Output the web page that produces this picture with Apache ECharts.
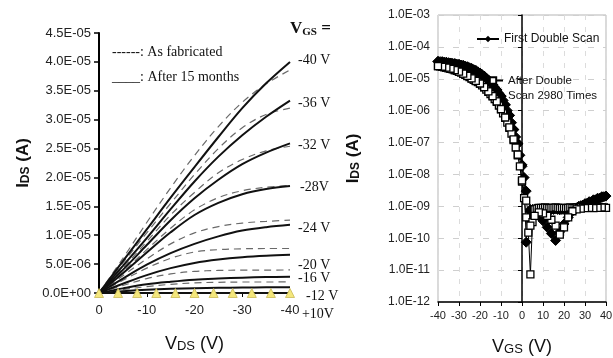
<!DOCTYPE html>
<html><head><meta charset="utf-8">
<script src="https://cdn.jsdelivr.net/npm/echarts@6/dist/echarts.min.js"></script>
<style>html,body{margin:0;padding:0;background:#fff}#c{width:613px;height:358px}</style>
</head><body><div id="c"></div>
<script>
// ---------- Left chart: output curves, I_DS in µA ----------
const vds = [0, -5, -10, -15, -20, -25, -30, -35, -40];
const vdsTri = [0, -4, -8, -12, -16, -20, -24, -28, -32, -36, -40];
const gateLabels = ['-40 V', '-36 V', '-32 V', '-28V', '-24 V', '-20 V', '-16 V', '-12 V'];
// After 15 months (solid)
const after40 = [0, 5.5, 11.0, 16.5, 21.8, 27.0, 32.0, 36.3, 40.0];
const after36 = [0, 4.7, 9.5, 14.5, 19.3, 23.6, 27.3, 30.5, 33.3];
const after32 = [0, 4.0, 8.3, 12.6, 16.4, 19.6, 22.3, 24.3, 25.9];
const after28 = [0, 3.4, 7.0, 10.5, 13.5, 15.6, 17.1, 18.0, 18.5];
const after24 = [0, 2.5, 4.9, 6.9, 8.5, 9.8, 10.8, 11.4, 11.8];
const after20 = [0, 1.6, 3.1, 4.3, 5.2, 5.8, 6.2, 6.45, 6.6];
const after16 = [0, 0.8, 1.5, 1.95, 2.3, 2.5, 2.65, 2.75, 2.8];
const after12 = [0, 0.3, 0.55, 0.72, 0.83, 0.9, 0.95, 0.98, 1.0];
const afterP10 = [0, 0, 0, 0, 0, 0, 0, 0, 0, 0, 0];
// As fabricated (dashed)
const fab40 = [0, 6.0, 12.2, 18.2, 23.8, 28.8, 33.0, 36.2, 38.6];
const fab36 = [0, 5.2, 10.4, 15.5, 20.5, 25.0, 28.6, 30.9, 32.0];
const fab32 = [0, 4.3, 8.9, 13.5, 17.4, 20.8, 23.1, 24.6, 25.4];
const fab28 = [0, 3.6, 7.5, 11.2, 14.4, 16.5, 17.7, 18.3, 18.6];
const fab24 = [0, 3.0, 5.9, 8.5, 10.4, 11.5, 12.1, 12.4, 12.6];
const fab20 = [0, 2.2, 4.3, 6.0, 7.1, 7.5, 7.65, 7.7, 7.7];
const fab16 = [0, 1.3, 2.5, 3.3, 3.75, 3.9, 3.95, 3.95, 4.0];
const fab12 = [0, 0.6, 1.1, 1.5, 1.75, 1.85, 1.9, 1.9, 1.95];

// ---------- Right chart: transfer curves (A), forward sweep then reverse sweep ----------
const vgsFwd = [-40,-39,-38,-37,-36,-35,-34,-33,-32,-31,-30,-29,-28,-27,-26,-25,-24,-23,-22,-21,
  -20,-19,-18,-17,-16,-15,-14,-13,-12,-11,-10,-9,-8,-7,-6,-5,-4,-3,-2,-1,
  0,1,2,3,4,5,6,7,8,9,10,11,12,13,14,15,16,17,18,19,20,21,22,23,24,25,26,27,28,29,
  30,31,32,33,34,35,36,37,38,39,40];
const vgsRev = [38,36,34,32,30,28,26,24,22,20,18,16,14,12,10,8,6,4,2,0,
  -2,-4,-6,-8,-10,-12,-14,-16,-18,-20,-22,-24,-26,-28,-30,-32,-34,-36,-38,-40];
const firstFwd = [3.5e-5,3.45e-5,3.4e-5,3.33e-5,3.27e-5,3.2e-5,3.12e-5,3.04e-5,2.96e-5,2.88e-5,
  2.8e-5,2.7e-5,2.6e-5,2.48e-5,2.36e-5,2.22e-5,2.08e-5,1.94e-5,1.8e-5,1.65e-5,
  1.5e-5,1.35e-5,1.2e-5,1.05e-5,9.0e-6,7.7e-6,6.5e-6,5.4e-6,4.4e-6,3.5e-6,
  2.8e-6,2.1e-6,1.5e-6,1.0e-6,7.0e-7,4.2e-7,2.5e-7,1.5e-7,9.0e-8,4.0e-8,
  1.8e-8,8.0e-9,7.5e-11,4.5e-10,7.0e-10,8.0e-10,8.0e-10,7.5e-10,8.0e-10,7.8e-10,
  8.0e-10,8.2e-10,8.0e-10,7.8e-10,8.0e-10,8.0e-10,8.2e-10,8.0e-10,7.8e-10,8.0e-10,
  8.0e-10,7.8e-10,7.5e-10,7.8e-10,8.0e-10,8.5e-10,9.0e-10,1.0e-9,1.05e-9,1.1e-9,
  1.2e-9,1.25e-9,1.3e-9,1.4e-9,1.5e-9,1.6e-9,1.7e-9,1.8e-9,1.9e-9,2.0e-9,2.1e-9];
const firstRev = [2.0e-9,1.8e-9,1.6e-9,1.4e-9,1.2e-9,1.0e-9,8.5e-10,7.0e-10,4.5e-10,2.8e-10,
  1.6e-10,8.5e-11,1.4e-10,2.2e-10,3.5e-10,5.0e-10,6.5e-10,8.0e-10,3.0e-9,2.0e-8,
  9.5e-8,2.6e-7,7.2e-7,1.55e-6,2.9e-6,4.5e-6,6.6e-6,9.2e-6,1.22e-5,1.52e-5,
  1.82e-5,2.1e-5,2.38e-5,2.62e-5,2.82e-5,2.98e-5,3.13e-5,3.28e-5,3.41e-5,3.5e-5];
const afterFwd = [2.5e-5,2.45e-5,2.38e-5,2.3e-5,2.22e-5,2.14e-5,2.05e-5,1.96e-5,1.86e-5,1.76e-5,
  1.66e-5,1.55e-5,1.44e-5,1.33e-5,1.22e-5,1.12e-5,1.02e-5,9.3e-6,8.5e-6,7.8e-6,
  7.0e-6,6.2e-6,5.4e-6,4.6e-6,3.9e-6,3.3e-6,2.8e-6,2.3e-6,1.9e-6,1.45e-6,
  1.1e-6,8.2e-7,6.0e-7,4.2e-7,2.9e-7,1.9e-7,1.2e-7,7.0e-8,4.0e-8,1.8e-8,
  6.0e-9,1.8e-9,4.5e-10,1.5e-10,7.4e-12,3.2e-10,8.0e-10,8.5e-10,9.0e-10,9.0e-10,
  9.0e-10,9.2e-10,9.0e-10,8.8e-10,9.0e-10,9.0e-10,9.2e-10,9.0e-10,8.8e-10,9.0e-10,
  9.0e-10,8.8e-10,9.0e-10,9.2e-10,9.0e-10,9.0e-10,9.2e-10,9.0e-10,9.5e-10,9.2e-10,
  9.0e-10,9.2e-10,9.5e-10,9.2e-10,9.0e-10,9.2e-10,9.5e-10,9.2e-10,9.0e-10,9.2e-10,9.0e-10];
const afterRev = [9.2e-10,9.0e-10,8.8e-10,9.0e-10,8.8e-10,8.5e-10,8.0e-10,7.0e-10,4.5e-10,2.2e-10,
  1.3e-10,2.5e-10,3.8e-10,5.0e-10,6.0e-10,6.5e-10,5.0e-10,2.5e-10,1.5e-9,6.5e-9,
  4.2e-8,1.25e-7,3.0e-7,6.1e-7,1.12e-6,1.95e-6,2.85e-6,4.0e-6,5.5e-6,7.1e-6,
  8.6e-6,1.03e-5,1.23e-5,1.45e-5,1.67e-5,1.87e-5,2.06e-5,2.23e-5,2.38e-5,2.5e-5];

// ---------- helpers ----------
function fmtLin(uA) {
  const v = uA * 1e-6;
  if (Math.abs(v) < 1e-15) return '0.0E+00';
  const e = Math.floor(Math.log10(Math.abs(v)) + 1e-9);
  const m = v / Math.pow(10, e);
  return m.toFixed(1) + 'E' + (e < 0 ? '-' : '+') + String(Math.abs(e)).padStart(2, '0');
}
function fmtLog(v) {
  const e = Math.round(Math.log10(v));
  const m = v / Math.pow(10, e);
  return m.toFixed(1) + 'E' + (e < 0 ? '-' : '+') + String(Math.abs(e)).padStart(2, '0');
}
const pairs = (xs, ys) => xs.map((x, i) => [x, ys[i]]);

const SANS = 'Liberation Sans';
const SERIF = 'Liberation Serif';

const afterCurves = [after40, after36, after32, after28, after24, after20, after16, after12];
const fabCurves = [fab40, fab36, fab32, fab28, fab24, fab20, fab16, fab12];
// label placement (style): [distance from line end, vertical shift]
const labelPlace = [[8, -2], [8, 2.5], [8, 1.5], [10, 1], [8, 4], [8, 10], [8, 1.5], [16, 9]];

function withEndLabel(xs, ys, text, place) {
  const d = pairs(xs, ys);
  const last = d.length - 1;
  d[last] = { value: d[last], label: { show: true, position: 'right', distance: place[0], offset: [0, place[1]],
    formatter: text, fontFamily: SERIF, fontSize: 14, color: '#111' } };
  return d;
}

const series = [];
fabCurves.forEach((c, k) => {
  series.push({
    type: 'line', name: 'fab ' + gateLabels[k], xAxisIndex: 0, yAxisIndex: 0,
    data: pairs(vds, c), smooth: 0.35, showSymbol: false, silent: true, z: 2,
    lineStyle: { color: '#6a6a6a', width: 1.2, type: [7, 5] }
  });
});
afterCurves.forEach((c, k) => {
  series.push({
    type: 'line', name: gateLabels[k], xAxisIndex: 0, yAxisIndex: 0,
    data: withEndLabel(vds, c, gateLabels[k], labelPlace[k]), smooth: 0.35,
    showSymbol: true, symbol: 'circle', symbolSize: 0.1, silent: true, z: 3, clip: false,
    itemStyle: { color: 'rgba(0,0,0,0)' },
    label: { show: false },
    lineStyle: { color: '#111', width: 2 }
  });
});
const p10 = pairs(vdsTri, afterP10);
p10[p10.length - 1] = { value: p10[p10.length - 1], label: { show: true, position: 'right', distance: 7, offset: [0, 21],
  formatter: '+10V', fontFamily: SERIF, fontSize: 14, color: '#111' } };
series.push({
  type: 'line', name: '+10V', xAxisIndex: 0, yAxisIndex: 0, clip: false,
  data: p10, symbol: 'triangle', symbolSize: 9, showSymbol: true, z: 4, label: { show: false },
  lineStyle: { color: '#111', width: 2 },
  itemStyle: { color: '#f4e77c', borderColor: '#c9b955', borderWidth: 0.8 }
});

// log minor grid lines for right chart
const minorGrid = [];
for (let e = -12; e <= -4; e++) for (let k = 2; k <= 9; k++) minorGrid.push({ yAxis: k * Math.pow(10, e) });
series.push({
  type: 'line', name: 'grid', xAxisIndex: 1, yAxisIndex: 1, data: [], silent: true, z: 1,
  markLine: { silent: true, symbol: 'none', label: { show: false }, animation: false,
    lineStyle: { color: '#d2d2d2', width: 1, type: [6, 9] }, data: minorGrid }
});
series.push({
  type: 'line', name: 'First Double Scan', xAxisIndex: 1, yAxisIndex: 1,
  data: pairs(vgsFwd.concat(vgsRev), firstFwd.concat(firstRev)),
  symbol: 'diamond', symbolSize: 10, z: 3,
  lineStyle: { color: '#000', width: 1 },
  itemStyle: { color: '#000', borderColor: '#000' }
});
series.push({
  type: 'line', name: 'After Double Scan 2980 Times', xAxisIndex: 1, yAxisIndex: 1,
  data: pairs(vgsFwd.concat(vgsRev), afterFwd.concat(afterRev)),
  symbol: 'rect', symbolSize: 7, z: 4,
  lineStyle: { color: '#000', width: 1 },
  itemStyle: { color: '#fff', borderColor: '#000', borderWidth: 1.3 }
});

const nameRich = (big, bold) => ({
  m: { fontFamily: SANS, fontSize: big, fontWeight: bold ? 'bold' : 'normal', color: '#111' },
  s: { fontFamily: SANS, fontSize: big - 5, fontWeight: bold ? 'bold' : 'normal', color: '#111', padding: [5, 0, 0, 0] }
});

const option = {
  animation: false,
  backgroundColor: '#fff',
  grid: [
    { left: 99, right: 323, top: 33, bottom: 65, outerBoundsMode: 'none', containLabel: false },
    { left: 438, right: 7, top: 15, bottom: 56, outerBoundsMode: 'none', containLabel: false,
      show: true, borderColor: '#b5b5b5', borderWidth: 1 }
  ],
  xAxis: [
    { gridIndex: 0, type: 'value', min: -40, max: 0, interval: 10, inverse: true,
      axisLine: { onZero: false, lineStyle: { color: '#000', width: 2 } },
      axisTick: { show: true, length: 4, lineStyle: { color: '#000', width: 1 } },
      axisLabel: { fontFamily: SANS, fontSize: 13, color: '#222', margin: 11 },
      splitLine: { show: false },
      name: '{m|V}{s|DS}{m| (V)}', nameLocation: 'middle', nameGap: 42,
      nameTextStyle: { rich: nameRich(18, false) } },
    { gridIndex: 1, type: 'value', min: -40, max: 40, interval: 10,
      axisLine: { onZero: false, lineStyle: { color: '#000', width: 1.5 } },
      axisTick: { show: true, length: 4, lineStyle: { color: '#000' } },
      axisLabel: { fontFamily: SANS, fontSize: 11, color: '#222', margin: 8 },
      splitLine: { show: true, lineStyle: { color: '#dcdcdc', width: 1, type: [5, 7] } },
      name: '{m|V}{s|GS}{m| (V)}', nameLocation: 'middle', nameGap: 36,
      nameTextStyle: { rich: nameRich(18, false) } }
  ],
  yAxis: [
    { gridIndex: 0, type: 'value', min: 0, max: 45, interval: 5,
      axisLine: { show: true, lineStyle: { color: '#000', width: 2 } },
      axisTick: { show: true, length: 5, lineStyle: { color: '#000', width: 1.5 } },
      axisLabel: { fontFamily: SANS, fontSize: 13, color: '#222', margin: 8, formatter: fmtLin },
      splitLine: { show: false },
      name: '{m|I}{s|DS}{m| (A)}', nameLocation: 'middle', nameGap: 67,
      nameTextStyle: { rich: nameRich(17, true) } },
    { gridIndex: 1, type: 'log', logBase: 10, min: 1e-12, max: 1e-3,
      axisLine: { show: true, lineStyle: { color: '#000', width: 1.5 } },
      axisTick: { show: true, length: 4, lineStyle: { color: '#000' } },
      axisLabel: { fontFamily: SANS, fontSize: 12, color: '#222', margin: 8, formatter: fmtLog },
      splitLine: { show: true, lineStyle: { color: '#cfcfcf', width: 1, type: [6, 9] } },
      name: '{m|I}{s|DS}{m| (A)}', nameLocation: 'middle', nameGap: 76,
      nameTextStyle: { rich: nameRich(17, true) } }
  ],
  legend: [
    { data: ['First Double Scan'], left: 476, top: 33, padding: 0, itemWidth: 22, itemHeight: 8,
      textStyle: { fontFamily: SANS, fontSize: 12, color: '#111' } },
    { data: ['After Double Scan 2980 Times'], left: 482, top: 58, padding: 0, itemWidth: 20, itemHeight: 8,
      formatter: () => '\u00a0\nAfter Double\nScan 2980 Times',
      textStyle: { fontFamily: SANS, fontSize: 11.5, color: '#111', lineHeight: 15 } }
  ],
  graphic: [
    { type: 'text', left: 112, top: 45, style: { text: '------: As fabricated', font: '14px "Liberation Serif"', fill: '#111' } },
    { type: 'text', left: 112, top: 70, style: { text: '____: After 15 months', font: '14px "Liberation Serif"', fill: '#111' } },
    { type: 'text', left: 290, top: 20, style: { text: '{v|V}{s|GS}{v| =}',
      rich: { v: { fontFamily: SERIF, fontSize: 17, fontWeight: 'bold', fill: '#111' },
              s: { fontFamily: SERIF, fontSize: 11, fontWeight: 'bold', fill: '#111', padding: [7, 0, 0, 0] } } } }
  ],
  series: series
};
const chart = echarts.init(document.getElementById('c'), null, { renderer: 'canvas' });
chart.setOption(option);
</script></body></html>
